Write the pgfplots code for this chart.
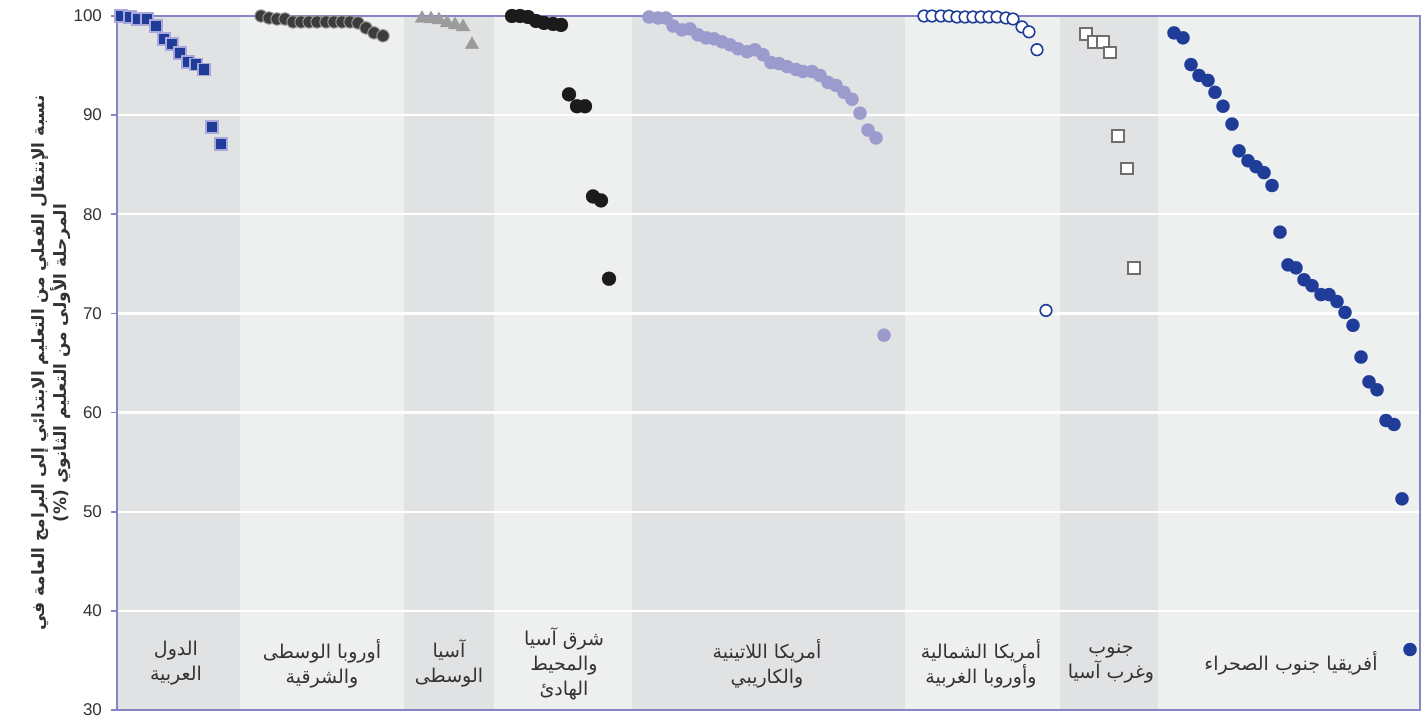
\documentclass[border=0pt]{standalone}
\usepackage{pgfplots}
\pgfplotsset{compat=1.18}
\usepackage{fontspec}
\setmainfont{Liberation Sans}
\newfontfamily\arabicfont[Script=Arabic]{DejaVu Sans}
\TeXXeTstate=1
\definecolor{frameC}{HTML}{8585C6}
\definecolor{bandD}{HTML}{E1E2E4}
\definecolor{bandL}{HTML}{EEEFEF}
\definecolor{navy}{HTML}{1F3D98}
\definecolor{lav}{HTML}{A8A8DC}
\definecolor{cee}{HTML}{3C3C3C}
\definecolor{ceeE}{HTML}{9A9A9A}
\definecolor{tri}{HTML}{9B9B9B}
\definecolor{eap}{HTML}{1C1A1B}
\definecolor{lac}{HTML}{9B9BCE}
\definecolor{swa}{HTML}{6E6E6E}
\definecolor{txt}{HTML}{333333}
\begin{document}
\begin{tikzpicture}
\begin{axis}[
  set layers,
  clip=false,
  scale only axis,
  width=651.5pt, height=347pt,
  xmin=117, xmax=1420, ymin=30, ymax=100,
  axis line style={draw=frameC, line width=1.2pt},
  xtick=\empty,
  ytick={30,40,...,100},
  ytick pos=left,
  ymajorgrids,
  grid style={white, line width=1.1pt},
  tick style={draw=frameC, line width=0.8pt},
  major tick length=3pt, tick align=outside,
  yticklabel style={font=\fontsize{8.5}{10}\selectfont, text=txt, xshift=-1pt},
  /pgf/number format/assume math mode=true,
  ylabel={\beginR نسبة الإنتقال الفعلي من التعليم الابتدائي إلى البرامج العامة في\endR\\\beginR المرحلة الأولى من التعليم الثانوي (\%)\endR},
  ylabel style={align=center, font=\arabicfont\bfseries\fontsize{8.5}{11}\selectfont, text=txt,
     at={(axis description cs:-0.0507,0.5)}, anchor=center, rotate=0},
  only marks,
]
\begin{pgfonlayer}{axis background}
\fill[bandD] (axis cs:117,30) rectangle (axis cs:240,100);
\fill[bandL] (axis cs:240,30) rectangle (axis cs:404,100);
\fill[bandD] (axis cs:404,30) rectangle (axis cs:494,100);
\fill[bandL] (axis cs:494,30) rectangle (axis cs:632,100);
\fill[bandD] (axis cs:632,30) rectangle (axis cs:905,100);
\fill[bandL] (axis cs:905,30) rectangle (axis cs:1060,100);
\fill[bandD] (axis cs:1060,30) rectangle (axis cs:1158,100);
\fill[bandL] (axis cs:1158,30) rectangle (axis cs:1420,100);
\end{pgfonlayer}

% Arab States
\addplot[color=lav, mark=square*, mark size=3pt, mark options={fill=navy, draw=lav, line width=0.9pt}] coordinates {
(121,100) (130,99.9) (138,99.7) (147,99.7) (156,99.0) (164,97.7) (172,97.2) (180,96.3) (188,95.4) (196,95.1) (204,94.6) (212,88.8) (221,87.1)};
% Central and Eastern Europe
\addplot[color=ceeE, mark=*, mark size=3.1pt, mark options={fill=cee, draw=ceeE, line width=0.5pt}] coordinates {
(261,100) (269,99.8) (277,99.7) (285,99.7) (293,99.4) (301,99.4) (309,99.4) (317,99.4) (326,99.4) (334,99.4) (342,99.4) (350,99.4) (358,99.3) (366,98.8) (374,98.3) (383,98.0)};
% Central Asia
\addplot[color=tri, mark=triangle*, mark size=4pt, mark options={fill=tri, draw=tri, line width=0.1pt}] coordinates {
(422,99.75) (431,99.7) (439,99.6) (447,99.3) (455,99.1) (463,98.9) (472,97.1)};
% East Asia and the Pacific
\addplot[color=eap, mark=*, mark size=3.5pt, mark options={fill=eap, draw=eap, line width=0.1pt}] coordinates {
(512,100) (520,100) (528,99.9) (536,99.5) (544,99.3) (553,99.2) (561,99.1) (569,92.1) (577,90.9) (585,90.9) (593,81.8) (601,81.4) (609,73.5)};
% Latin America and the Caribbean
\addplot[color=lac, mark=*, mark size=3.3pt, mark options={fill=lac, draw=lac, line width=0.1pt}] coordinates {
(649,99.9) (658,99.8) (666,99.8) (673,99.0) (682,98.6) (690,98.7) (698,98.1) (706,97.8) (714,97.7) (722,97.4) (730,97.1) (738,96.7) (747,96.4) (755,96.6) (763,96.1) (771,95.3) (779,95.2) (787,94.9) (796,94.6) (803,94.4) (812,94.4) (820,94.0) (828,93.3) (836,93.0) (844,92.3) (852,91.6) (860,90.2) (868,88.5) (876,87.7) (884,67.8)};
% North America and Western Europe
\addplot[color=navy, mark=*, mark size=2.9pt, mark options={fill=white, draw=navy, line width=0.8pt}] coordinates {
(924,100) (932,100) (941,100) (949,100) (957,99.9) (965,99.9) (973,99.9) (981,99.9) (989,99.9) (997,99.9) (1006,99.8) (1013,99.7) (1022,98.9) (1029,98.4) (1037,96.6) (1046,70.3)};
% South and West Asia
\addplot[color=swa, mark=square*, mark size=2.9pt, mark options={fill=white, draw=swa, line width=1pt}] coordinates {
(1086,98.2) (1094,97.4) (1103,97.4) (1110,96.3) (1118,87.9) (1127,84.6) (1134,74.6)};
% Sub-Saharan Africa
\addplot[color=navy, mark=*, mark size=3.3pt, mark options={fill=navy, draw=navy, line width=0.1pt}] coordinates {
(1174,98.3) (1183,97.8) (1191,95.1) (1199,94.0) (1208,93.5) (1215,92.3) (1223,90.9) (1232,89.1) (1239,86.4) (1248,85.4) (1256,84.8) (1264,84.2) (1272,82.9) (1280,78.2) (1288,74.9) (1296,74.6) (1304,73.4) (1312,72.8) (1321,71.9) (1329,71.9) (1337,71.2) (1345,70.1) (1353,68.8) (1361,65.6) (1369,63.1) (1377,62.3) (1386,59.2) (1394,58.8) (1402,51.3) (1410,36.1)};

\tikzset{reg/.style={align=center, font=\arabicfont\fontsize{9.5}{12.5}\selectfont, text=txt, anchor=center}}
\node[reg] at (axis cs:176,34.7) {\beginR الدول\endR\\\beginR العربية\endR};
\node[reg] at (axis cs:322,34.7) {\beginR أوروبا الوسطى\endR\\\beginR والشرقية\endR};
\node[reg] at (axis cs:449,34.7) {\beginR آسيا\endR\\\beginR الوسطى\endR};
\node[reg] at (axis cs:564,34.7) {\beginR شرق آسيا\endR\\\beginR والمحيط\endR\\\beginR الهادئ\endR};
\node[reg] at (axis cs:767,34.7) {\beginR أمريكا اللاتينية\endR\\\beginR والكاريبي\endR};
\node[reg] at (axis cs:981,34.7) {\beginR أمريكا الشمالية\endR\\\beginR وأوروبا الغربية\endR};
\node[reg] at (axis cs:1111,34.7) {\beginR جنوب\endR\\\beginR وغرب آسيا\endR};
\node[reg] at (axis cs:1291,34.7) {\beginR أفريقيا جنوب الصحراء\endR};
\end{axis}
\pgfresetboundingbox
\path[use as bounding box] ([shift={(-58.5pt,-4.5pt)}]current axis.south west) rectangle ([shift={(3pt,8pt)}]current axis.north east);
\end{tikzpicture}
\end{document}
